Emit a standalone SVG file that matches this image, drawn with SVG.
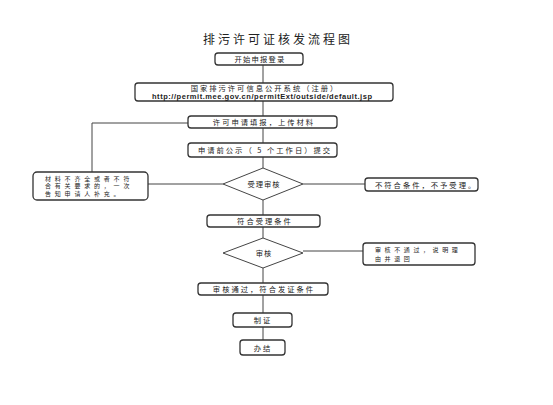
<svg xmlns="http://www.w3.org/2000/svg" width="553" height="405" viewBox="0 0 553 405">
<style>
.bg{fill:#ffffff}
.box{fill:#ffffff;stroke:#333;stroke-width:1.3}
.dia{fill:#ffffff;stroke:#444;stroke-width:1}
.ln{fill:none;stroke:#444;stroke-width:1}
.t{font-family:"Noto Sans CJK SC","Noto Sans",sans-serif;font-size:7.3px;fill:#222;letter-spacing:2px;dominant-baseline:central}
.c{text-anchor:middle}
.m{font-size:6px;letter-spacing:3.8px}
.title{font-family:"Noto Sans CJK SC",sans-serif;font-size:12px;fill:#222;letter-spacing:3px;text-anchor:middle}
.url{font-family:"Liberation Sans",Arial,sans-serif;font-size:7.5px;font-weight:bold;fill:#222;text-anchor:middle;dominant-baseline:central}
</style>
<rect class="bg" x="0" y="0" width="553" height="405"/>
<text class="title" x="278" y="44">排污许可证核发流程图</text>
<g id="connectors">
<line class="ln" x1="263" y1="65" x2="263" y2="83"/>
<line class="ln" x1="263" y1="101" x2="263" y2="116"/>
<line class="ln" x1="263" y1="128" x2="263" y2="143"/>
<line class="ln" x1="263" y1="157" x2="263" y2="168"/>
<line class="ln" x1="263" y1="200" x2="263" y2="215"/>
<line class="ln" x1="263" y1="227" x2="263" y2="238"/>
<line class="ln" x1="263" y1="268" x2="263" y2="283"/>
<line class="ln" x1="263" y1="295" x2="263" y2="313"/>
<line class="ln" x1="263" y1="327" x2="263" y2="340"/>
<line class="ln" x1="223" y1="184" x2="148" y2="184"/>
<line class="ln" x1="303" y1="184" x2="365" y2="184"/>
<line class="ln" x1="303" y1="251" x2="363" y2="251"/>
<polyline class="ln" points="92,172 92,123 188,123"/>
</g>
<g id="n1"><rect class="box" x="215" y="53" width="88" height="12" rx="3"/><text class="t c" x="260" y="59" style="letter-spacing:1.2px">开始申报登录</text></g>
<g id="n2"><rect class="box" x="135" y="83" width="258" height="18" rx="3"/><text class="t c" x="265" y="88">国家排污许可信息公开系统（注册）</text><text class="url" x="262" y="96.5" textLength="220" lengthAdjust="spacing">http://permit.mee.gov.cn/permitExt/outside/default.jsp</text></g>
<g id="n3"><rect class="box" x="188" y="116" width="149" height="12" rx="3"/><text class="t c" x="264" y="122">许可申请填报，上传材料</text></g>
<g id="n4"><rect class="box" x="188" y="143" width="149" height="14" rx="3"/><text class="t c" x="265" y="150">申请前公示（ 5 个工作日）提交</text></g>
<g id="d1"><polygon class="dia" points="263,168 303,184 263,200 223,184"/><text class="t c" x="264" y="184" style="letter-spacing:1px">受理审核</text></g>
<g id="n5"><rect class="box" x="33" y="172" width="115" height="28" rx="4"/><text class="t m" x="45" y="178">材料不齐全或者不符</text><text class="t m" x="45" y="185.5">合有关要求的，一次</text><text class="t m" x="45" y="193">告知申请人补充。</text></g>
<g id="n6"><rect class="box" x="365" y="178" width="113" height="13" rx="3"/><text class="t" x="375" y="184.5">不符合条件，不予受理。</text></g>
<g id="n7"><rect class="box" x="207" y="215" width="113" height="12" rx="3"/><text class="t c" x="265" y="221">符合受理条件</text></g>
<g id="d2"><polygon class="dia" points="263,238 303,253 263,268 223,253"/><text class="t c" x="264" y="253" style="letter-spacing:1px">审核</text></g>
<g id="n8"><rect class="box" x="363" y="243" width="112" height="22" rx="3"/><text class="t m" x="375" y="249.5" style="letter-spacing:3.6px">审核不通过，说明理</text><text class="t m" x="375" y="258" style="letter-spacing:3.6px">由并退回</text></g>
<g id="n9"><rect class="box" x="198" y="283" width="130" height="12" rx="3"/><text class="t c" x="264" y="289">审核通过，符合发证条件</text></g>
<g id="n10"><rect class="box" x="233" y="313" width="59" height="14" rx="3"/><text class="t c" x="263" y="320">制证</text></g>
<g id="n11"><rect class="box" x="240" y="340" width="45" height="15" rx="3"/><text class="t c" x="263" y="347.5">办结</text></g>
</svg>
